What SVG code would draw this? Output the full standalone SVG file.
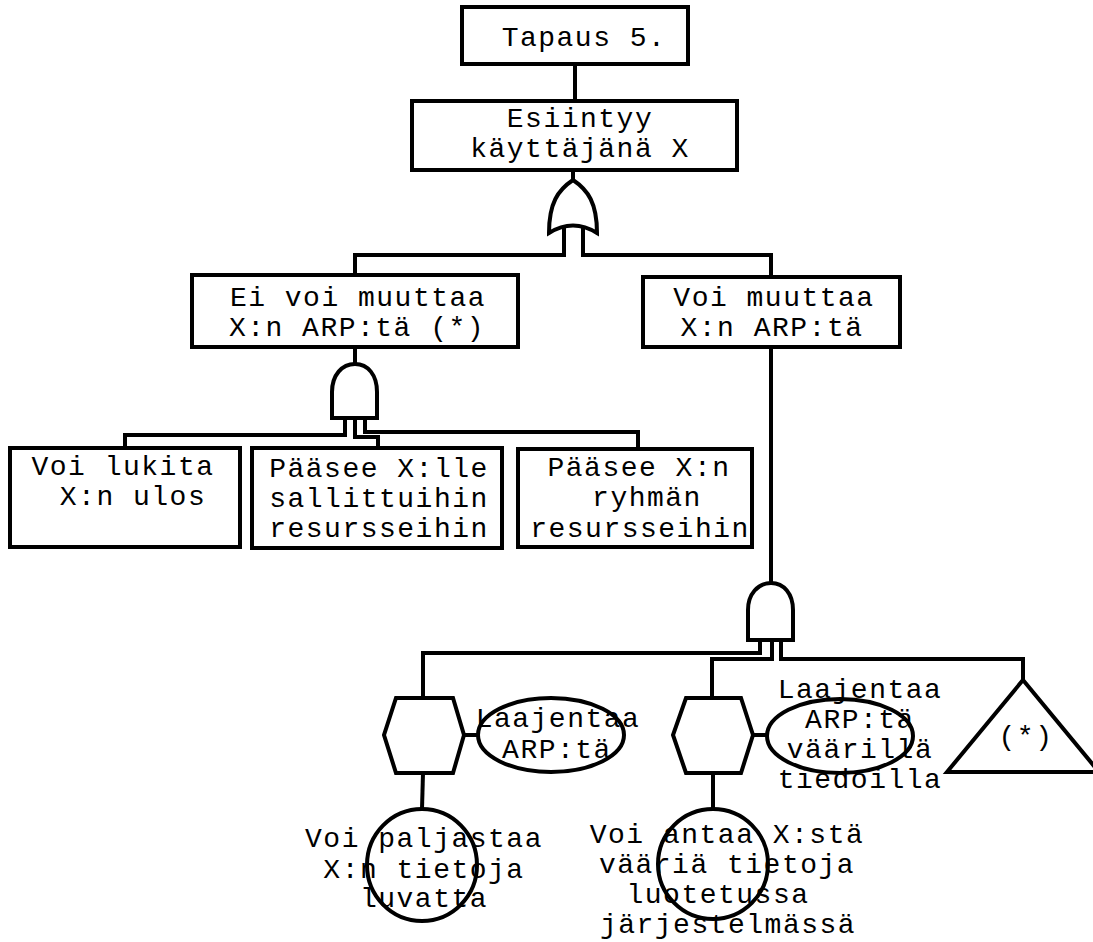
<svg xmlns="http://www.w3.org/2000/svg" width="1093" height="942" viewBox="0 0 1093 942">
  <style>
    .box { fill: #fff; stroke: #000; stroke-width: 4; }
    .shape { fill: #fff; stroke: #000; stroke-width: 4; stroke-linejoin: miter; }
    .ring { fill: none; stroke: #000; stroke-width: 4; }
    .wire { fill: none; stroke: #000; stroke-width: 4; stroke-linejoin: miter; }
    .t { font-family: "Liberation Mono", "Courier New", monospace; font-size: 28px; letter-spacing: 1.5px; fill: #000; text-anchor: middle; }
  </style>

  <!-- connectors -->
  <g id="connectors">
    <path class="wire" d="M575,64 V101"/>
    <path class="wire" d="M573,170 V181"/>
    <path class="wire" d="M564,228 V255 H355 V275"/>
    <path class="wire" d="M583,228 V255 H771 V277"/>
    <path class="wire" d="M355,347 V364"/>
    <path class="wire" d="M345,418 V435 H125 V448"/>
    <path class="wire" d="M355,418 V437 H378 V448"/>
    <path class="wire" d="M365,418 V432 H638 V449"/>
    <path class="wire" d="M771,347 V584"/>
    <path class="wire" d="M760,640 V653 H423 V698"/>
    <path class="wire" d="M772,640 V659 H712 V698"/>
    <path class="wire" d="M781,640 V659 H1023 V681"/>
    <path class="wire" d="M464,735 H478"/>
    <path class="wire" d="M753,735 H767"/>
    <path class="wire" d="M423,773 L422,809"/>
    <path class="wire" d="M713,773 V809"/>
  </g>

  <!-- top event -->
  <g id="n-tapaus">
    <rect class="box" x="462" y="7" width="226" height="57"/>
    <text class="t" x="584" y="46">Tapaus 5.</text>
  </g>

  <g id="n-esiintyy">
    <rect class="box" x="412" y="101" width="325" height="69"/>
    <text class="t" x="580" y="127">Esiintyy</text>
    <text class="t" x="580" y="157">käyttäjänä X</text>
  </g>

  <!-- OR gate -->
  <g id="g-or">
    <path class="shape" d="M573,180 C558,190 549,203 549,233 Q573,218 597,233 C597,203 588,190 573,180 Z"/>
  </g>

  <g id="n-ei-voi">
    <rect class="box" x="192" y="275" width="326" height="72"/>
    <text class="t" x="358" y="306">Ei voi muuttaa</text>
    <text class="t" x="357" y="336">X:n ARP:tä (*)</text>
  </g>

  <g id="n-voi-muuttaa">
    <rect class="box" x="643" y="277" width="257" height="70"/>
    <text class="t" x="774" y="306">Voi muuttaa</text>
    <text class="t" x="772" y="336">X:n ARP:tä</text>
  </g>

  <!-- AND gate under "Ei voi muuttaa" -->
  <g id="g-and-1">
    <path class="shape" d="M332,418 L332,392 C332,375 342,364 355,364 C368,364 377,375 377,392 L377,418 Z"/>
  </g>

  <g id="n-lukita">
    <rect class="box" x="10" y="448" width="230" height="99"/>
    <text class="t" x="123" y="475">Voi lukita</text>
    <text class="t" x="133" y="505">X:n ulos</text>
  </g>

  <g id="n-sallittuihin">
    <rect class="box" x="252" y="448" width="250" height="100"/>
    <text class="t" x="379" y="477">Pääsee X:lle</text>
    <text class="t" x="379" y="507">sallittuihin</text>
    <text class="t" x="379" y="537">resursseihin</text>
  </g>

  <g id="n-ryhman">
    <rect class="box" x="518" y="449" width="234" height="98"/>
    <text class="t" x="639" y="476">Pääsee X:n</text>
    <text class="t" x="647" y="506">ryhmän</text>
    <text class="t" x="640" y="537">resursseihin</text>
  </g>

  <!-- AND gate under "Voi muuttaa" -->
  <g id="g-and-2">
    <path class="shape" d="M748,640 L748,610 C748,594 758,583 771,583 C784,583 793,594 793,610 L793,640 Z"/>
  </g>

  <!-- left branch: inhibit with condition -->
  <g id="n-inhibit-1">
    <polygon class="shape" points="396,698 453,698 464,735 453,773 396,773 384,735"/>
  </g>
  <g id="n-cond-1">
    <ellipse class="ring" cx="551" cy="735" rx="73" ry="37"/>
    <text class="t" x="558" y="727">Laajentaa</text>
    <text class="t" x="557" y="758">ARP:tä</text>
  </g>
  <g id="n-paljastaa">
    <ellipse class="ring" cx="422" cy="865" rx="55" ry="56"/>
    <text class="t" x="424" y="847">Voi paljastaa</text>
    <text class="t" x="424" y="878">X:n tietoja</text>
    <text class="t" x="424" y="907">luvatta</text>
  </g>

  <!-- middle branch: inhibit with condition -->
  <g id="n-inhibit-2">
    <polygon class="shape" points="686,698 741,698 753,735 741,773 686,773 673,735"/>
  </g>
  <g id="n-cond-2">
    <ellipse class="ring" cx="840" cy="736" rx="73" ry="37"/>
    <text class="t" x="860" y="698">Laajentaa</text>
    <text class="t" x="860" y="728">ARP:tä</text>
    <text class="t" x="860" y="758">väärillä</text>
    <text class="t" x="860" y="788">tiedoilla</text>
  </g>
  <g id="n-antaa">
    <ellipse class="ring" cx="713" cy="864" rx="55" ry="55"/>
    <text class="t" x="727" y="843">Voi antaa X:stä</text>
    <text class="t" x="727" y="873">vääriä tietoja</text>
    <text class="t" x="718" y="903">luotetussa</text>
    <text class="t" x="728" y="933">järjestelmässä</text>
  </g>

  <!-- transfer triangle -->
  <g id="n-transfer">
    <polygon class="shape" points="1023,680 1099,772 947,772"/>
    <text class="t" x="1026" y="745">(*)</text>
  </g>
</svg>
